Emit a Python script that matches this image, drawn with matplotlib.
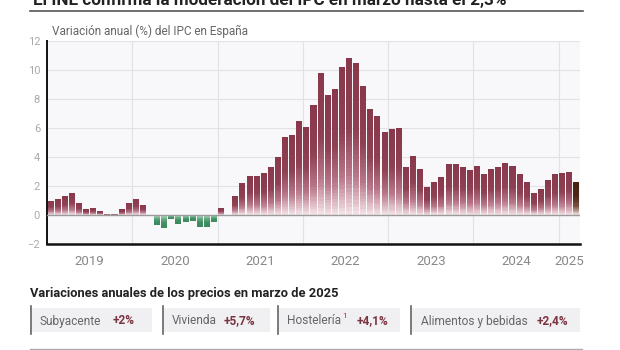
import numpy as np
import matplotlib
matplotlib.use("Agg")
import matplotlib.pyplot as plt
from matplotlib.colors import LinearSegmentedColormap
from matplotlib.patches import Rectangle
from matplotlib.lines import Line2D

plt.rcParams['font.family'] = ['Roboto', 'DejaVu Sans']

# ---- data ----
years = [2019, 2020, 2021, 2022, 2023, 2024, 2025]
ipc_2019 = [1.0, 1.1, 1.3, 1.5, 0.8, 0.4, 0.5, 0.3, 0.1, 0.1, 0.4, 0.8]
ipc_2020 = [1.1, 0.7, 0.0, -0.7, -0.9, -0.3, -0.6, -0.5, -0.4, -0.8, -0.8, -0.5]
ipc_2021 = [0.5, 0.0, 1.3, 2.2, 2.7, 2.7, 2.9, 3.3, 4.0, 5.4, 5.5, 6.5]
ipc_2022 = [6.1, 7.6, 9.8, 8.3, 8.7, 10.2, 10.8, 10.5, 8.9, 7.3, 6.8, 5.7]
ipc_2023 = [5.9, 6.0, 3.3, 4.1, 3.2, 1.9, 2.3, 2.6, 3.5, 3.5, 3.3, 3.1]
ipc_2024 = [3.4, 2.8, 3.2, 3.3, 3.6, 3.4, 2.8, 2.3, 1.5, 1.8, 2.4, 2.8]
ipc_2025 = [2.9, 3.0, 2.3]
yticks = [-2, 0, 2, 4, 6, 8, 10, 12]

cat_labels = ["Subyacente", "Vivienda", "Hostelería", "Alimentos y bebidas"]
cat_values = ["+2%", "+5,7%", "+4,1%", "+2,4%"]

title = "El INE confirma la moderación del IPC en marzo hasta el 2,3%"
subtitle = "Variación anual (%) del IPC en España"
heading = "Variaciones anuales de los precios en marzo de 2025"

values = np.array(ipc_2019 + ipc_2020 + ipc_2021 + ipc_2022 + ipc_2023 + ipc_2024 + ipc_2025)
n = len(values)

W, H = 620, 350
fig = plt.figure(figsize=(W / 100, H / 100), dpi=100)
fig.patch.set_facecolor('white')

def fx(px):
    return px / W

def fy(py):
    return 1 - py / H

ax = fig.add_axes([fx(47), fy(244), fx(580) - fx(47), fy(41) - fy(244)])
ax.set_facecolor('#f8f8fa')

cmap_pos = LinearSegmentedColormap.from_list(
    'pos', [(0.0, '#f5e4e8'), (0.25, '#b8788a'), (0.55, '#8e4153'), (1.0, '#88384a')])
cmap_neg = LinearSegmentedColormap.from_list(
    'neg', [(0.0, '#bfe0cb'), (0.3, '#6aad86'), (0.6, '#418f62'), (1.0, '#3b885c')])
cmap_last = LinearSegmentedColormap.from_list(
    'last', [(0.0, '#eee3de'), (0.25, '#7e5444'), (0.55, '#4d2818'), (1.0, '#46230f')])

x = np.arange(n)
bw = 0.85
N = 40
for j in range(N, 0, -1):
    frac = j / N
    heights = values * frac
    cols = []
    for i, v in enumerate(values):
        if i == n - 1:
            cm = cmap_last
        elif v >= 0:
            cm = cmap_pos
        else:
            cm = cmap_neg
        cols.append(cm(frac - 0.5 / N))
    ax.bar(x, heights, width=bw, color=cols, linewidth=0, zorder=3)

ax.set_xlim(-0.5, n - 0.5)
ax.set_ylim(-2, 12)

# grid
for yv in yticks:
    if yv in (-2, 0):
        continue
    ax.axhline(yv, color='#e2e2e6', lw=0.8, zorder=1)
for k in range(1, len(years)):
    ax.axvline(12 * k - 0.5, color='#e2e2e6', lw=0.8, zorder=1)
ax.axhline(0, color='#9a9a9a', lw=1.0, zorder=4)

for s in ['top', 'right']:
    ax.spines[s].set_visible(False)
ax.spines['left'].set_color('#111111')
ax.spines['left'].set_linewidth(1.4)
ax.spines['bottom'].set_color('#111111')
ax.spines['bottom'].set_linewidth(1.8)

ax.set_yticks(yticks)
ax.set_yticklabels([str(t) if t >= 0 else '\u2212' + str(-t) for t in yticks])
ax.tick_params(axis='y', length=0, pad=5, labelsize=8, labelcolor='#aaaaaa')

xt = []
for k, yr in enumerate(years):
    start = 12 * k
    end = min(12 * (k + 1), n)
    xt.append((start + end - 1) / 2)
ax.set_xticks(xt)
ax.set_xticklabels([str(y) for y in years])
ax.tick_params(axis='x', length=0, pad=8, labelsize=9.5, labelcolor='#888888')

# title and lines
fig.text(fx(33), fy(5), title, fontsize=12.3, fontweight='bold', color='#222222',
         ha='left', va='baseline')
fig.add_artist(Line2D([fx(30), fx(583)], [fy(11), fy(11)], color='#555555', lw=1.2))
fig.text(fx(52), fy(31), subtitle, fontsize=8.5, color='#666666', ha='left', va='center')

# bottom section
fig.text(fx(30), fy(294), heading, fontsize=9.3, fontweight='bold', color='#222222',
         ha='left', va='center')

renderer = fig.canvas.get_renderer()
boxes = [(30, 152, 40, 113), (162, 270, 172, 224), (277, 400, 287, 357), (410, 580, 421, 537)]
for (bx0, bx1, tx, vx), lab, val in zip(boxes, cat_labels, cat_values):
    fig.add_artist(Rectangle((fx(bx0), fy(332)), fx(bx1) - fx(bx0), fy(308) - fy(332),
                             transform=fig.transFigure, facecolor='#f0f0f2', edgecolor='none'))
    fig.add_artist(Line2D([fx(bx0 + 0.5), fx(bx0 + 0.5)], [fy(306), fy(334)],
                          color='#666666', lw=1.2))
    t = fig.text(fx(tx), fy(321), lab, fontsize=8.6, color='#666666', ha='left', va='center')
    if lab == "Hostelería":
        bb = t.get_window_extent(renderer=renderer)
        fig.text(bb.x1 / W + fx(1), fy(316), "1", fontsize=6, color='#c0283a',
                 ha='left', va='center')
    fig.text(fx(vx), fy(321), val, fontsize=8.6, fontweight='bold', color='#7a3442',
             ha='left', va='center')

fig.add_artist(Line2D([fx(30), fx(582)], [fy(349), fy(349)], color='#aaaaaa', lw=1.0))

fig.savefig('out.png', dpi=100)
